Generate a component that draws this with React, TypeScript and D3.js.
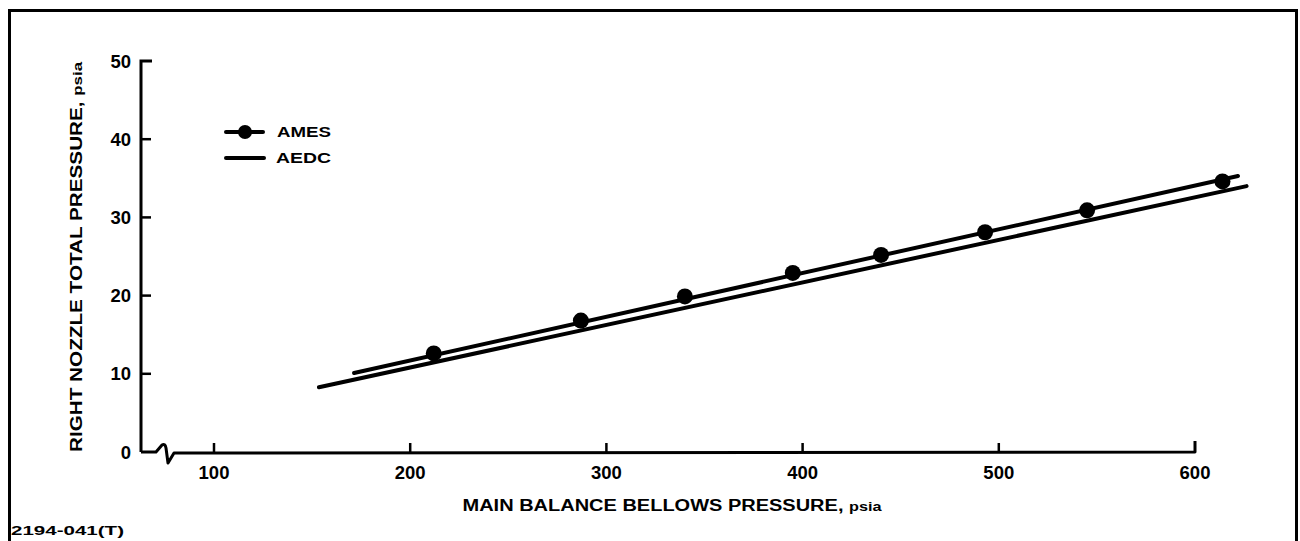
import React from "react";
import * as d3 from "d3";

// Measured AMES points: main balance bellows pressure vs right nozzle total pressure (psia)
const amesBellows = [212, 287, 340, 395, 440, 493, 545, 614];
const amesNozzle = [12.6, 16.8, 19.9, 22.9, 25.2, 28.1, 30.9, 34.6];

// Fitted line through the AMES points (end points)
const amesLineBellows = [171.4, 621.9];
const amesLineNozzle = [10.1, 35.3];

// AEDC calibration line (end points)
const aedcLineBellows = [153.5, 626.3];
const aedcLineNozzle = [8.27, 34.0];

const xTicks = [100, 200, 300, 400, 500, 600];
const yTicks = [0, 10, 20, 30, 40, 50];

const W = 1300;
const H = 541;
const FONT = "'Liberation Sans', Arial, Helvetica, sans-serif";

export default function App() {
  const x = d3.scaleLinear().domain([100, 600]).range([214, 1195]);
  const y = d3.scaleLinear().domain([0, 50]).range([452, 61]);
  const axisX = 141;
  const y0 = y(0);

  const line = d3
    .line<[number, number]>()
    .x((d) => x(d[0]))
    .y((d) => y(d[1]));

  const amesLine: [number, number][] = amesLineBellows.map((b, i) => [b, amesLineNozzle[i]]);
  const aedcLine: [number, number][] = aedcLineBellows.map((b, i) => [b, aedcLineNozzle[i]]);

  // x axis with a break symbol just right of the origin
  const xAxisPath =
    `M${axisX},${y0} L${axisX + 15},${y0} ` +
    `L${axisX + 21},${y0 - 7} ` +
    `Q${axisX + 24},${y0 - 9} ${axisX + 25},${y0 - 4} ` +
    `L${axisX + 27},${y0 + 11} ` +
    `L${axisX + 33},${y0 + 1} L${x(600)},${y0} L${x(600)},${y0 - 11}`;

  return (
    <svg
      width={W}
      height={H}
      viewBox={`0 0 ${W} ${H}`}
      style={{ position: "absolute", left: 0, top: 0, background: "#fff" }}
      fontFamily={FONT}
    >
      <rect x={0} y={0} width={W} height={H} fill="#fff" />
      {/* frame */}
      <path d={`M9.5,${H} L9.5,10.5 L1296.5,10.5 L1296.5,${H}`} fill="none" stroke="#000" strokeWidth={3} />

      {/* y axis */}
      <path d={`M${axisX + 11},${y(50)} L${axisX},${y(50)} L${axisX},${y0}`} fill="none" stroke="#000" strokeWidth={3} />
      {yTicks.slice(1, -1).map((t) => (
        <line key={t} x1={axisX} x2={axisX + 10} y1={y(t)} y2={y(t)} stroke="#000" strokeWidth={2.5} />
      ))}
      {yTicks.map((t) => (
        <text
          key={t}
          x={axisX - 10}
          y={y(t) + 6.5}
          textAnchor="end"
          fontSize={18.5}
          fontWeight="bold"
          fill="#000"
        >
          {t}
        </text>
      ))}

      {/* x axis */}
      <path d={xAxisPath} fill="none" stroke="#000" strokeWidth={3} strokeLinejoin="round" />
      {xTicks.slice(0, -1).map((t) => (
        <line key={t} x1={x(t)} x2={x(t)} y1={y0} y2={y0 - 9} stroke="#000" strokeWidth={2.5} />
      ))}
      {xTicks.map((t) => (
        <text key={t} x={x(t)} y={479} textAnchor="middle" fontSize={18.5} fontWeight="bold" fill="#000">
          {t}
        </text>
      ))}

      {/* axis titles */}
      <text
        x={672}
        y={511}
        textAnchor="middle"
        fontSize={16}
        fontWeight="bold"
        textLength={419}
        lengthAdjust="spacingAndGlyphs"
      >
        MAIN BALANCE BELLOWS PRESSURE, <tspan fontSize={13}>psia</tspan>
      </text>
      <text
        transform={`translate(82,257) rotate(-90)`}
        textAnchor="middle"
        fontSize={16}
        fontWeight="bold"
        textLength={390}
        lengthAdjust="spacingAndGlyphs"
      >
        RIGHT NOZZLE TOTAL PRESSURE, <tspan fontSize={13}>psia</tspan>
      </text>

      {/* data lines */}
      <path d={line(aedcLine) ?? ""} fill="none" stroke="#000" strokeWidth={4} strokeLinecap="round" />
      <path d={line(amesLine) ?? ""} fill="none" stroke="#000" strokeWidth={4} strokeLinecap="round" />
      {amesBellows.map((b, i) => (
        <circle key={b} cx={x(b)} cy={y(amesNozzle[i])} r={8} fill="#000" />
      ))}

      {/* legend */}
      <line x1={226} x2={263} y1={132} y2={132} stroke="#000" strokeWidth={4} strokeLinecap="round" />
      <circle cx={245} cy={132} r={7} fill="#000" />
      <text x={277} y={137} fontSize={14} fontWeight="bold" textLength={54} lengthAdjust="spacingAndGlyphs">
        AMES
      </text>
      <line x1={226} x2={264} y1={158} y2={158} stroke="#000" strokeWidth={4} strokeLinecap="round" />
      <text x={276} y={163} fontSize={14} fontWeight="bold" textLength={55} lengthAdjust="spacingAndGlyphs">
        AEDC
      </text>

      {/* figure number */}
      <text x={11} y={535} fontSize={13} fontWeight="bold" textLength={113} lengthAdjust="spacingAndGlyphs">
        2194-041(T)
      </text>
    </svg>
  );
}
